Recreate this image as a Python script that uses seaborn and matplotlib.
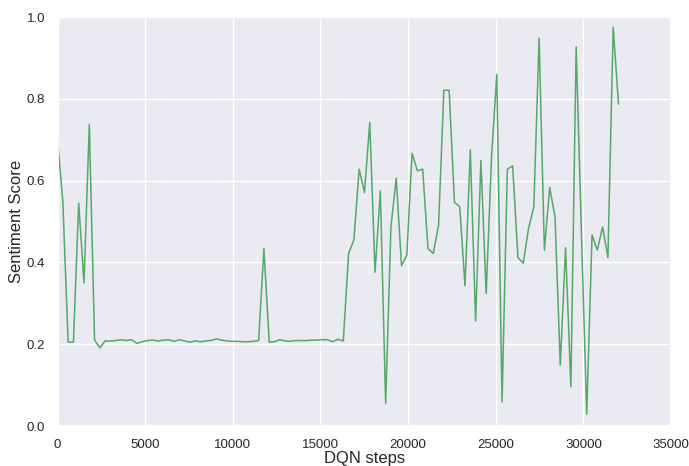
import numpy as np
import pandas as pd
import matplotlib
matplotlib.use("Agg")
import matplotlib.pyplot as plt
import seaborn as sns

# sentiment score logged at evenly spaced DQN steps (0 .. 32000)
last_step = 32000
sentiment = [
    0.700, 0.550, 0.205, 0.205, 0.545, 0.350, 0.737, 0.210, 0.191, 0.208,
    0.208, 0.209, 0.211, 0.209, 0.211, 0.202, 0.206, 0.209, 0.210, 0.208,
    0.210, 0.211, 0.207, 0.211, 0.208, 0.205, 0.208, 0.206, 0.208, 0.209,
    0.213, 0.210, 0.208, 0.207, 0.207, 0.206, 0.206, 0.207, 0.209, 0.434,
    0.205, 0.206, 0.211, 0.208, 0.207, 0.209, 0.209, 0.209, 0.210, 0.210,
    0.211, 0.211, 0.206, 0.212, 0.208, 0.422, 0.455, 0.628, 0.571, 0.742,
    0.376, 0.575, 0.055, 0.487, 0.606, 0.392, 0.418, 0.667, 0.624, 0.628,
    0.434, 0.422, 0.491, 0.821, 0.821, 0.547, 0.536, 0.343, 0.675, 0.257,
    0.649, 0.324, 0.655, 0.860, 0.059, 0.628, 0.636, 0.412, 0.398, 0.483,
    0.536, 0.948, 0.430, 0.583, 0.512, 0.149, 0.436, 0.096, 0.927, 0.470,
    0.029, 0.467, 0.430, 0.487, 0.412, 0.975, 0.787,
]
steps = np.linspace(0, last_step, len(sentiment))

x_ticks = [0, 5000, 10000, 15000, 20000, 25000, 30000, 35000]
y_ticks = [0.0, 0.2, 0.4, 0.6, 0.8, 1.0]

df = pd.DataFrame({"DQN steps": steps, "Sentiment Score": sentiment})

sns.set_theme(style="darkgrid")
plt.rcParams["font.family"] = ["Liberation Sans", "DejaVu Sans"]

fig = plt.figure(figsize=(6.89, 4.66), dpi=100)
ax = fig.add_axes([0.0835, 0.0858, 0.8905, 0.8777])

sns.lineplot(data=df, x="DQN steps", y="Sentiment Score", ax=ax,
             color="#55A868", linewidth=1.1)

ax.set_xlim(0, 35000)
ax.set_ylim(0, 1.0)
ax.set_xticks(x_ticks)
ax.set_yticks(y_ticks)
ax.set_yticklabels([f"{v:.1f}" for v in y_ticks])
ax.tick_params(labelsize=9.5, pad=3, labelcolor="#262626")
ax.set_xlabel("DQN steps", fontsize=12, labelpad=0)
ax.set_ylabel("Sentiment Score", fontsize=12, labelpad=2)

fig.savefig("out.png", dpi=100)
